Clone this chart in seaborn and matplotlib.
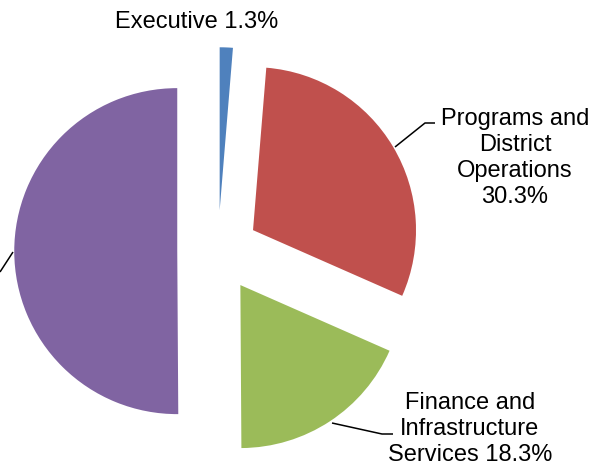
import matplotlib
matplotlib.use("Agg")
import matplotlib.pyplot as plt
import seaborn as sns

# data
labels = ["Executive", "Programs and\nDistrict\nOperations", "Finance and\nInfrastructure\nServices", "Other"]
shares = [1.3, 30.3, 18.3, 50.1]
colors = ["#4F81BD", "#C0504D", "#9BBB59", "#8064A2"]

sns.set_theme(style="white")
plt.rcParams['font.family'] = ['Liberation Sans', 'DejaVu Sans']

W, H = 609, 469
CX, CY, R = 218, 251, 163  # pie centre / radius in pixels (y from top)


def px(x, y):
    # pixel position -> data units of the pie axes
    return (x - CX) / R, (CY - y) / R


fig = plt.figure(figsize=(W / 100, H / 100), dpi=100)
ax = fig.add_axes([0, 0, 1, 1])
ax.pie(shares, colors=colors, startangle=90, counterclock=False,
       explode=[0.25] * len(shares), radius=1,
       wedgeprops=dict(linewidth=0))
ax.set_aspect('equal')
ax.set_xlim(-CX / R, (W - CX) / R)
ax.set_ylim(-(H - CY) / R, CY / R)
ax.axis('off')

fs = 17
# labels
ax.text(*px(197, 22), f"{labels[0]} {shares[0]}%", ha='center', va='center',
        fontsize=fs, color='black')
ax.text(*px(515, 158), f"{labels[1]}\n{shares[1]}%", ha='center', va='center',
        fontsize=fs, color='black', multialignment='center', linespacing=1.25)
fin_head, fin_tail = labels[2].rsplit("\n", 1)
ax.text(*px(470, 429), f"{fin_head}\n{fin_tail} {shares[2]}%",
        ha='center', va='center', fontsize=fs, color='black',
        multialignment='center', linespacing=1.25)

# leader lines
for pts in ([(395, 147), (425, 123), (435, 123)],
            [(332, 423), (382, 434), (393, 434)],
            [(0, 272), (13, 252)]):
    xs, ys = zip(*[px(x, y) for x, y in pts])
    ax.plot(xs, ys, color='black', linewidth=1.1, solid_capstyle='butt')

fig.savefig("out.png", dpi=100, facecolor='white')
